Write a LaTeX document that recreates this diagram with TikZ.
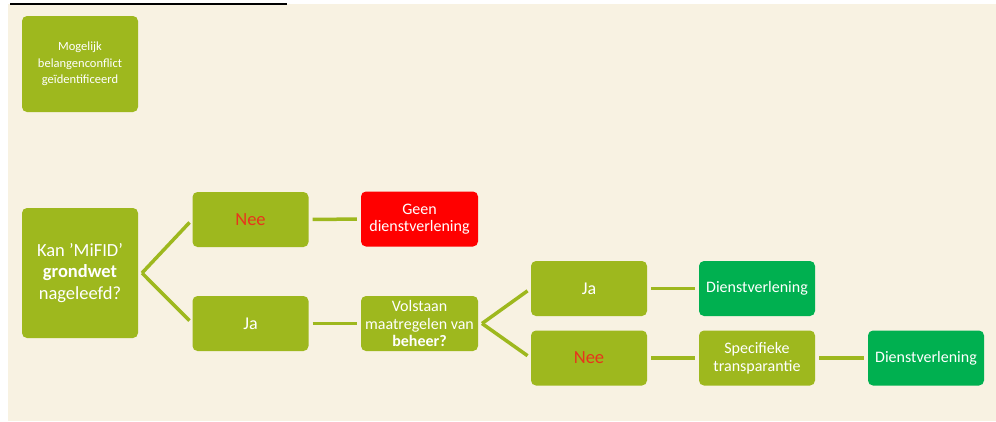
\documentclass[tikz,border=0pt]{standalone}
\usepackage{fontspec}
\setmainfont{Carlito}
\usetikzlibrary{positioning}

\definecolor{creme}{RGB}{248,242,226}
\definecolor{olijf}{RGB}{158,184,30}
\definecolor{rood}{RGB}{255,0,0}
\definecolor{groen}{RGB}{0,176,80}
\definecolor{neerood}{RGB}{232,52,28}

\tikzset{
  blok/.style={rounded corners=5pt, fill=olijf, text=white, align=center, inner sep=0pt,
    minimum width=116pt, minimum height=55pt, font=\fontsize{16}{17.5}\selectfont},
  lijn/.style={olijf, line width=3.5pt, shorten <=4pt, shorten >=4pt},
  nee/.style={text=neerood, font=\fontsize{18.5}{20}\selectfont},
  ja/.style={font=\fontsize{18}{20}\selectfont}
}

\begin{document}
\begin{tikzpicture}[x=1pt, y=-1pt]
				% Фон и граница рисунка
				\useasboundingbox (0,0) rectangle (996,421);
				\fill[white] (0,0) rectangle (996,421);
				\fill[creme] (8,4) rectangle (996,421);
				\draw[black, line width=2pt] (10,4) -- (287,4);
				
				% Блоки
				\node[blok, minimum height=96pt, font=\fontsize{12.5}{16.5}\selectfont] (start) at (80,64) {Mogelijk\\belangenconflict\\geïdentificeerd};
				\node[blok, minimum height=130pt, font=\fontsize{18.5}{21.7}\selectfont] (mifid) at (80,273) {Kan 'MiFID'\\\textbf{grondwet}\\nageleefd?};
				\node[blok, nee] (nee1) at (250.5,219.5) {Nee};
				\node[blok, fill=rood, minimum width=117pt] (geen) at (419.5,219) {Geen\\dienstverlening};
				\node[blok, ja] (ja1) at (250.5,323.5) {Ja};
				\node[blok, minimum width=117pt] (beheer) at (419.5,323.5) {Volstaan\\maatregelen van\\\textbf{beheer?}};
				\node[blok, ja] (ja2) at (589,288.5) {Ja};
				\node[blok, fill=groen] (dienst1) at (757,288.5) {Dienstverlening};
				\node[blok, nee] (nee2) at (589,358) {Nee};
				\node[blok] (transp) at (757,358) {Specifieke\\transparantie};
				\node[blok, fill=groen] (dienst2) at (926,358) {Dienstverlening};
				
				% Точки ветвления
				\coordinate (v1) at (142,273);
				\coordinate (v2) at (482,323.5);
				
				% Соединительные линии
				\draw[lijn, shorten <=0pt] (v1) -- (nee1.west);
				\draw[lijn, shorten <=0pt] (v1) -- (ja1.west);
				\draw[lijn] (nee1) -- (geen);
				\draw[lijn] (ja1) -- (beheer);
				\draw[lijn, shorten <=0pt] (v2) -- (ja2.west);
				\draw[lijn, shorten <=0pt] (v2) -- (nee2.west);
				\draw[lijn] (ja2) -- (dienst1);
				\draw[lijn] (nee2) -- (transp);
				\draw[lijn] (transp) -- (dienst2);
			\end{tikzpicture}
\end{document}
